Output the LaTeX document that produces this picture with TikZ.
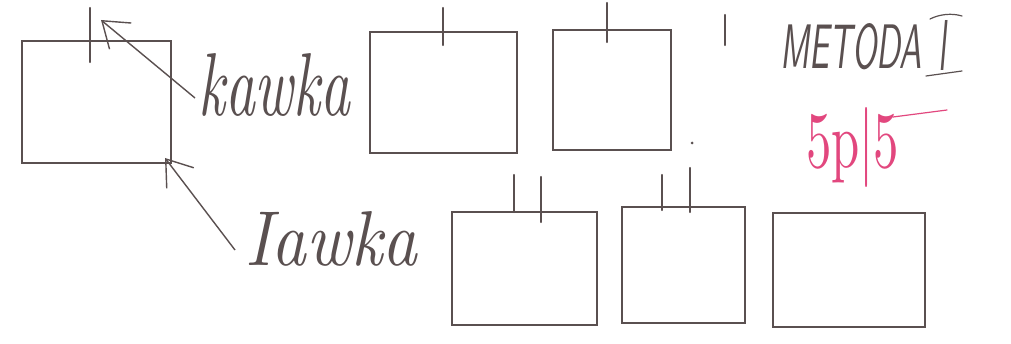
\documentclass[tikz,border=0pt]{standalone}
\usepackage{graphicx}
\usetikzlibrary{arrows.meta}
\definecolor{pen}{HTML}{5A5050}
\definecolor{redpen}{HTML}{E2477E}
\tikzset{
  box/.style={draw=pen, line width=1.7pt, inner sep=0pt},
  tick/.style={draw=pen, line width=2.4pt, line cap=round},
  hand/.style={text=pen, inner sep=0pt, anchor=south west},
  stroke/.style={draw=pen, line width=1.2pt, line cap=round},
  arr/.style={draw=pen, line width=1.4pt, -{Straight Barb[length=24pt,width=34pt,line width=1.4pt]}}
}
\begin{document}
\begin{tikzpicture}[x=1pt,y=-1pt]
\useasboundingbox (0,0) rectangle (1011,344);
\fill[white] (0,0) rectangle (1011,344);
% boxes
\node[box, minimum width=149pt, minimum height=122pt] (b1) at (96.5,102) {};
\node[box, minimum width=147pt, minimum height=121pt] (b2) at (443.5,92.5) {};
\node[box, minimum width=118pt, minimum height=120pt] (b3) at (612,90) {};
\node[box, minimum width=145pt, minimum height=113pt] (b4) at (524.5,268.5) {};
\node[box, minimum width=123pt, minimum height=116pt] (b5) at (683.5,265) {};
\node[box, minimum width=152pt, minimum height=114pt] (b6) at (849,270) {};
% ticks
\draw[tick] (90,8) -- (90,62);
\draw[tick] (443,8) -- (443,45);
\draw[tick] (607,3) -- (607,42);
\draw[tick] (725,15) -- (725,45);
\draw[tick] (514,175) -- (514,212);
\draw[tick] (541,177) -- (541,222);
\draw[tick] (662,175) -- (662,210);
\draw[tick] (690,168) -- (690,212);
\fill[pen] (692,143) circle (1.5);
% labels
\node[hand] (kawka) at (198,117) {\resizebox{152pt}{62pt}{\itshape kawka}};
\node[hand] (iawka) at (245,267) {\resizebox{172pt}{54pt}{\itshape Iawka}};
\node[hand] (metoda) at (780,70) {\resizebox{142pt}{45pt}{\sffamily\itshape METODA}};
\node[hand] (roman) at (938,71) {\resizebox{8pt}{50pt}{\sffamily\itshape I}};
\draw[stroke] (930,19) .. controls (940,14) and (952,13) .. (962,16);
\draw[stroke] (926,76) -- (962,71);
\node[hand, text=redpen, anchor=base west] (score) at (806,168) {\resizebox{93pt}{60pt}{5p|5}};
\draw[redpen, line width=1.2pt, line cap=round] (893,117) -- (947,110);
% arrows
\coordinate (t1) at (101,20);
\coordinate (t2) at (165,158);
\draw[arr] ([shift={(-3pt,19pt)}]kawka.south west) -- (t1);
\draw[arr] ([shift={(-10pt,17pt)}]iawka.south west) -- (t2);
\end{tikzpicture}
\end{document}
